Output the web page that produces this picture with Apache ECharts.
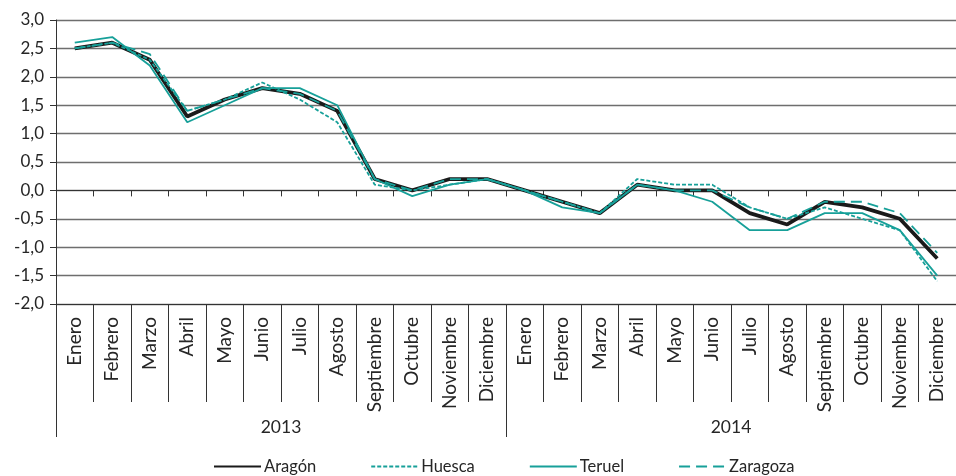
<!DOCTYPE html>
<html>
<head>
<meta charset="utf-8">
<script src="https://cdn.jsdelivr.net/npm/echarts@6/dist/echarts.min.js"></script>
<style>html,body{margin:0;padding:0;background:#fff;}#c{width:956px;height:476px;}</style>
</head>
<body>
<div id="c"></div>
<script>
const months = ['Enero','Febrero','Marzo','Abril','Mayo','Junio','Julio','Agosto','Septiembre','Octubre','Noviembre','Diciembre',
                'Enero','Febrero','Marzo','Abril','Mayo','Junio','Julio','Agosto','Septiembre','Octubre','Noviembre','Diciembre'];
const years = ['2013','2014'];
const aragon   = [2.5,2.6,2.3,1.3,1.6,1.8,1.7,1.4,0.2,0.0,0.2,0.2, 0.0,-0.2,-0.4,0.1,0.0,0.0,-0.4,-0.6,-0.2,-0.3,-0.5,-1.2];
const huesca   = [2.5,2.6,2.3,1.4,1.6,1.9,1.6,1.2,0.1,0.0,0.1,0.2, 0.0,-0.2,-0.4,0.2,0.1,0.1,-0.3,-0.5,-0.3,-0.5,-0.7,-1.6];
const teruel   = [2.6,2.7,2.2,1.2,1.5,1.8,1.8,1.5,0.2,-0.1,0.1,0.2, 0.0,-0.3,-0.4,0.1,0.0,-0.2,-0.7,-0.7,-0.4,-0.4,-0.7,-1.5];
const zaragoza = [2.5,2.6,2.4,1.4,1.6,1.8,1.7,1.4,0.2,0.0,0.2,0.2, 0.0,-0.2,-0.4,0.1,0.0,0.0,-0.3,-0.5,-0.2,-0.2,-0.4,-1.1];

const FONT = 'Lato';
const TXT = '#262626';
const TEAL = '#17a099';
const AXC = '#333333';
const GRIDC = '#6e6e6e';

const chart = echarts.init(document.getElementById('c'));
chart.setOption({
  animation: false,
  textStyle: { fontFamily: FONT },
  grid: { left: 56, top: 20, bottom: 172, right: -9, containLabel: false },
  legend: {
    left: 208, top: 453,
    itemWidth: 47, itemHeight: 12, itemGap: 54,
    itemStyle: { color: 'transparent', borderWidth: 0, opacity: 0 },
    textStyle: { fontFamily: FONT, fontSize: 16.5, color: TXT, padding: [0,0,0,-2] },
    data: ['Aragón','Huesca','Teruel','Zaragoza']
  },
  xAxis: [
    {
      type: 'category', data: months, position: 'bottom', boundaryGap: true,
      axisLine: { onZero: false, lineStyle: { color: AXC, width: 1 } },
      axisTick: { show: true, interval: 0, length: 98, lineStyle: { color: AXC } },
      axisLabel: { interval: 0, rotate: 90, margin: 13, fontFamily: FONT, fontSize: 19, color: TXT }
    },
    {
      type: 'category', data: years, position: 'bottom', boundaryGap: true,
      axisLine: { show: false, onZero: false },
      axisTick: { show: true, interval: 0, length: 133, lineStyle: { color: AXC } },
      axisLabel: { margin: 114, fontFamily: FONT, fontSize: 17.5, color: TXT }
    },
    {
      type: 'category', data: months, position: 'bottom', boundaryGap: true,
      axisLine: { show: true, onZero: true, lineStyle: { color: AXC, width: 1 } },
      axisTick: { show: true, interval: 0, length: 6, lineStyle: { color: AXC } },
      axisLabel: { show: false }
    }
  ],
  yAxis: {
    type: 'value', min: -2, max: 3, interval: 0.5,
    axisLine: { show: true, lineStyle: { color: AXC } },
    axisTick: { show: true, length: 6, lineStyle: { color: AXC } },
    splitLine: { show: true, lineStyle: { color: GRIDC, width: 1.3 } },
    axisLabel: { margin: 12, fontFamily: FONT, fontSize: 17, color: TXT,
      formatter: v => v.toFixed(1).replace('.', ',') }
  },
  series: [
    { name: 'Aragón', type: 'line', data: aragon, showSymbol: false, symbol: 'none',
      lineStyle: { color: '#1a1a1a', width: 3.8, opacity: 1 } },
    { name: 'Huesca', type: 'line', data: huesca, showSymbol: false, symbol: 'none',
      lineStyle: { color: TEAL, width: 1.8, type: [4, 2], opacity: 1 } },
    { name: 'Teruel', type: 'line', data: teruel, showSymbol: false, symbol: 'none',
      lineStyle: { color: TEAL, width: 1.8, opacity: 1 } },
    { name: 'Zaragoza', type: 'line', data: zaragoza, showSymbol: false, symbol: 'none',
      lineStyle: { color: TEAL, width: 1.8, type: [11, 6], opacity: 1 } }
  ]
});
</script>
</body>
</html>
